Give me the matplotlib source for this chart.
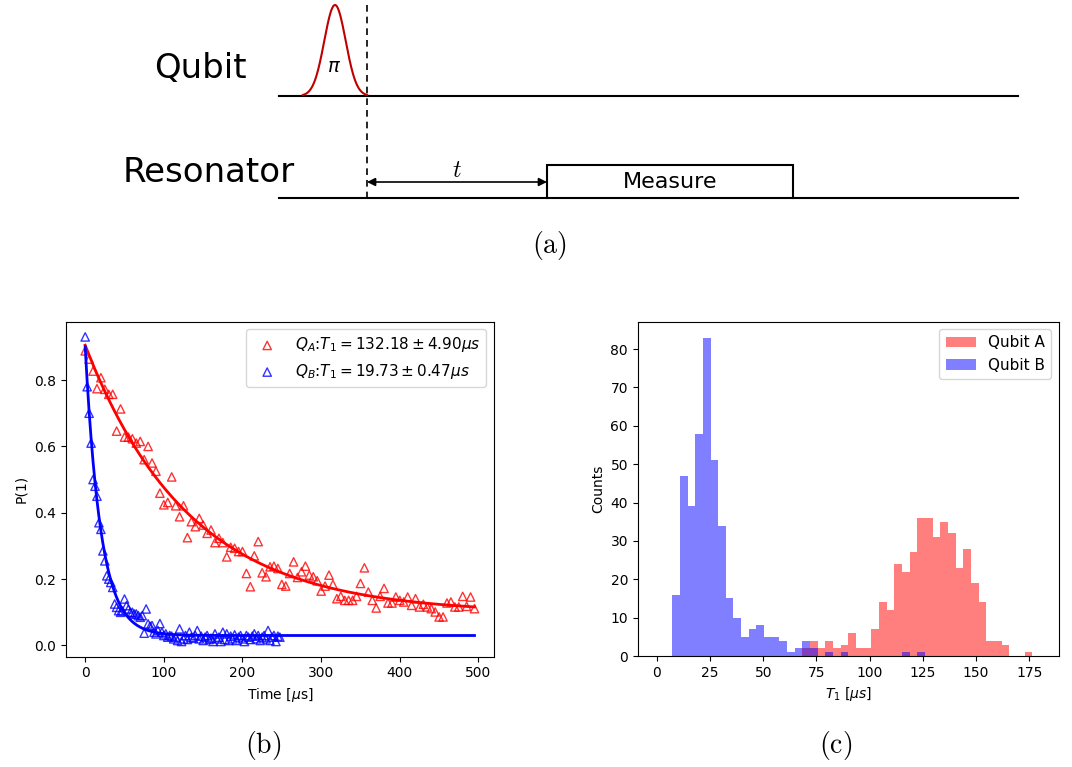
import numpy as np
import matplotlib
matplotlib.use('Agg')
import matplotlib.pyplot as plt
from matplotlib.patches import Rectangle

# --- Relaxation data (T1 measurement) ---
t_a = np.arange(0, 500, 5)          # µs, qubit A sampling
p_a = [0.888, 0.863, 0.827, 0.774, 0.807, 0.772, 0.757, 0.757, 0.646, 0.713,
       0.628, 0.628, 0.623, 0.610, 0.615, 0.560, 0.600, 0.550, 0.525, 0.459,
       0.424, 0.431, 0.508, 0.421, 0.388, 0.421, 0.325, 0.373, 0.358, 0.383,
       0.363, 0.338, 0.348, 0.310, 0.323, 0.310, 0.267, 0.296, 0.293, 0.283,
       0.283, 0.217, 0.177, 0.270, 0.313, 0.219, 0.207, 0.237, 0.239, 0.232,
       0.184, 0.179, 0.217, 0.252, 0.205, 0.222, 0.239, 0.212, 0.207, 0.195,
       0.164, 0.179, 0.212, 0.184, 0.141, 0.148, 0.136, 0.136, 0.136, 0.148,
       0.187, 0.234, 0.161, 0.136, 0.113, 0.148, 0.172, 0.128, 0.128, 0.146,
       0.136, 0.131, 0.146, 0.121, 0.141, 0.116, 0.124, 0.116, 0.111, 0.101,
       0.086, 0.086, 0.128, 0.131, 0.116, 0.116, 0.148, 0.118, 0.146, 0.111]

t_b = np.arange(0, 250, 2.5)        # µs, qubit B sampling
p_b = [0.930, 0.780, 0.700, 0.610, 0.500, 0.480, 0.450, 0.370, 0.350, 0.285,
       0.255, 0.210, 0.200, 0.190, 0.175, 0.125, 0.115, 0.105, 0.100, 0.104,
       0.140, 0.120, 0.110, 0.100, 0.100, 0.095, 0.095, 0.090, 0.085, 0.090,
       0.037, 0.110, 0.065, 0.058, 0.060, 0.040, 0.035, 0.045, 0.066, 0.040,
       0.030, 0.035, 0.025, 0.030, 0.028, 0.020, 0.025, 0.015, 0.050, 0.012,
       0.020, 0.030, 0.018, 0.040, 0.025, 0.022, 0.030, 0.045, 0.020, 0.028,
       0.015, 0.025, 0.030, 0.018, 0.022, 0.012, 0.035, 0.020, 0.025, 0.012,
       0.040, 0.018, 0.035, 0.015, 0.028, 0.020, 0.032, 0.015, 0.025, 0.030,
       0.020, 0.012, 0.030, 0.025, 0.018, 0.028, 0.035, 0.020, 0.030, 0.015,
       0.025, 0.030, 0.020, 0.045, 0.015, 0.025, 0.030, 0.012, 0.028, 0.025]

# fit results  P(t) = A exp(-t/T1) + B
T1_a, dT1_a, amp_a, off_a = 132.18, 4.90, 0.808, 0.097
T1_b, dT1_b, amp_b, off_b = 19.73, 0.47, 0.870, 0.030

# --- T1 histograms (50 bins over 0-180 µs) ---
bin_edges = np.linspace(0, 180, 51)
counts_a = [0] * 19 + [2, 4, 2, 4, 2, 3, 6, 2, 2, 7, 14, 12, 24, 22, 27, 36, 36,
                       31, 35, 32, 23, 28, 19, 14, 4, 4, 3, 0, 0, 1, 0]
counts_b = [0, 0, 16, 47, 39, 58, 83, 51, 34, 15, 10, 5, 7, 8, 5, 5, 4, 1, 2, 4,
            2, 0, 1, 0, 1] + [0] * 7 + [1, 0, 1] + [0] * 15

fig = plt.figure(figsize=(10.72, 7.67), dpi=100)

# ---------- (a) pulse sequence sketch, in pixel units ----------
ax0 = fig.add_axes([0, 0, 1, 1])
ax0.set_xlim(0, 1072)
ax0.set_ylim(767, 0)
ax0.axis('off')

x_start, x_end = 279, 1018
y_qubit, y_res = 96, 198
pulse_c, pulse_sig, pulse_h = 335, 10.7, 91
x_dash = 367
box_l, box_r, box_top = 547, 793, 165

ax0.plot([x_start, x_end], [y_qubit, y_qubit], color='black', lw=1.5)
ax0.plot([x_start, box_l], [y_res, y_res], color='black', lw=1.5)
ax0.plot([box_r, x_end], [y_res, y_res], color='black', lw=1.5)

xp = np.linspace(pulse_c - 3 * pulse_sig, pulse_c + 3 * pulse_sig, 200)
yp = y_qubit - pulse_h * np.exp(-0.5 * ((xp - pulse_c) / pulse_sig) ** 2)
ax0.plot(xp, yp, color='#c00000', lw=1.5)
ax0.text(pulse_c - 1, 66, r'$\pi$', fontsize=14, ha='center', va='center')

ax0.plot([x_dash, x_dash], [5, y_res], color='black', lw=1.2, ls=(0, (4, 3)))
ax0.annotate('', xy=(box_l, 182), xytext=(x_dash, 182),
             arrowprops=dict(arrowstyle='<|-|>', color='black', lw=1.2,
                             mutation_scale=12, shrinkA=0, shrinkB=0))
ax0.text((x_dash + box_l) / 2, 170, r'$t$', fontsize=17, ha='center', va='center',
         math_fontfamily='cm')

ax0.add_patch(Rectangle((box_l, box_top), box_r - box_l, y_res - box_top,
                        facecolor='white', edgecolor='black', lw=1.5))
ax0.text((box_l + box_r) / 2, 182, 'Measure', fontsize=16, ha='center', va='center')

ax0.text(247, 68, 'Qubit', fontsize=24.5, ha='right', va='center')
ax0.text(295, 172, 'Resonator', fontsize=24.5, ha='right', va='center')

for px, py, tag in [(549, 245, 'a'), (263, 745, 'b'), (836, 745, 'c')]:
    ax0.text(px, py, r'$\mathrm{(' + tag + r')}$', fontsize=20,
             ha='center', va='center', math_fontfamily='cm')

# ---------- (b) T1 decay curves ----------
ax1 = fig.add_axes([0.0613, 0.1438, 0.3995, 0.4368])
t_fit = np.linspace(0, 495, 400)
ax1.scatter(t_a, p_a, marker='^', facecolors='none', edgecolors='red', alpha=0.8,
            label=rf'$Q_A$:$T_1={T1_a:.2f}\pm{dT1_a:.2f}\mu s$')
ax1.plot(t_fit, amp_a * np.exp(-t_fit / T1_a) + off_a, color='red', lw=2)
ax1.scatter(t_b, p_b, marker='^', facecolors='none', edgecolors='blue', alpha=0.8,
            label=rf'$Q_B$:$T_1={T1_b:.2f}\pm{dT1_b:.2f}\mu s$')
ax1.plot(t_fit, amp_b * np.exp(-t_fit / T1_b) + off_b, color='blue', lw=2)
ax1.set_xlabel(r'Time [$\mu$s]')
ax1.set_ylabel('P(1)')
ax1.set_xticks([0, 100, 200, 300, 400, 500])
ax1.legend(loc='upper right', fontsize=11)

# ---------- (c) T1 histograms ----------
ax2 = fig.add_axes([0.5949, 0.1447, 0.393, 0.4359])
ax2.hist(bin_edges[:-1], bins=bin_edges, weights=counts_a, color='red',
         alpha=0.5, label='Qubit A')
ax2.hist(bin_edges[:-1], bins=bin_edges, weights=counts_b, color='blue',
         alpha=0.5, label='Qubit B')
ax2.set_xlabel(r'$T_1$ [$\mu s$]')
ax2.set_ylabel('Counts')
ax2.set_xticks([0, 25, 50, 75, 100, 125, 150, 175])
ax2.legend(loc='upper right', fontsize=11)

fig.savefig('out.png', dpi=100)
plt.close(fig)
